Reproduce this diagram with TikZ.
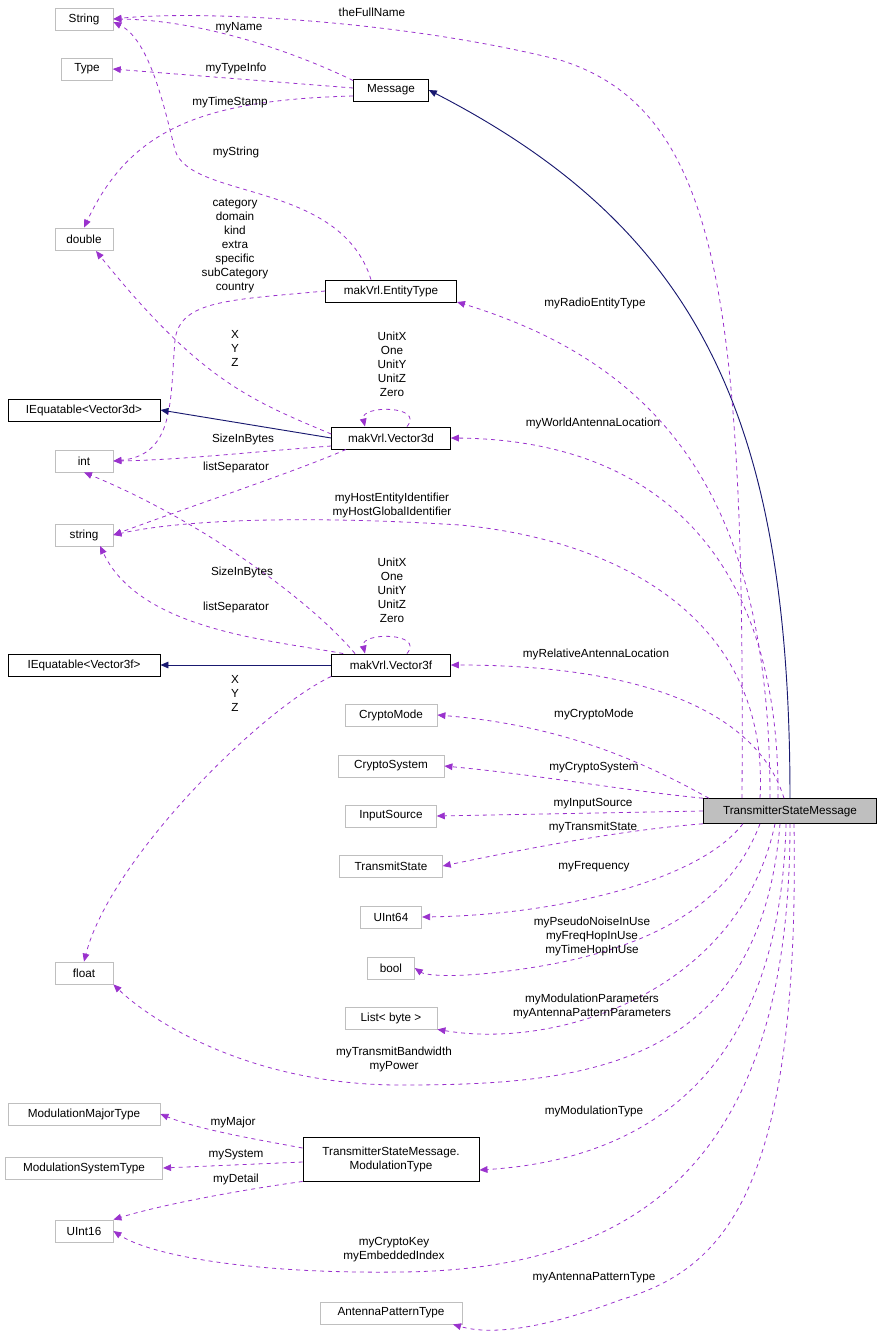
\documentclass[tikz,border=0pt]{standalone}
\usepackage{fontspec}
\setmainfont{Liberation Sans}
\usetikzlibrary{arrows.meta,calc}
\definecolor{pur}{HTML}{9A32CD}
\definecolor{nav}{HTML}{191970}
\definecolor{gr}{HTML}{BFBFBF}
\begin{document}
\begin{tikzpicture}[x=0.75pt,y=-0.75pt,
  every node/.style={font=\fontsize{8.8}{10.5}\selectfont},
  box/.style={draw=gr,line width=0.6pt,minimum height=16.5pt,inner sep=1pt},
  bbox/.style={draw=black,line width=0.7pt,minimum height=16.5pt,inner sep=1pt},
  dep/.style={draw=pur,dashed,line width=0.6pt,-{Triangle[length=6pt,width=5pt]}},
  inh/.style={draw=nav,line width=0.7pt,-{Triangle[length=6pt,width=5pt]}},
  lab/.style={inner sep=0pt,align=center}]
\useasboundingbox (0,0) rectangle (883,1339);
% nodes
\node[box,minimum width=43.5pt] (String) at (84,19) {String};
\node[box,minimum width=38pt] (Type) at (87,69) {Type};
\node[bbox,minimum width=56pt] (Message) at (391,90) {Message};
\node[box,minimum width=43.5pt] (double) at (84,239) {double};
\node[bbox,minimum width=98pt] (ET) at (391,291) {makVrl.EntityType};
\node[bbox,minimum width=114pt] (IEd) at (84,410) {IEquatable<Vector3d>};
\node[bbox,minimum width=89pt] (V3d) at (391,438) {makVrl.Vector3d};
\node[box,minimum width=43.5pt] (int) at (84,461) {int};
\node[box,minimum width=43.5pt] (string) at (84,535) {string};
\node[bbox,minimum width=114pt] (IEf) at (84,665) {IEquatable<Vector3f>};
\node[bbox,minimum width=89pt] (V3f) at (391,665) {makVrl.Vector3f};
\node[box,minimum width=69pt] (CM) at (391,715) {CryptoMode};
\node[box,minimum width=79.5pt] (CS) at (391,766) {CryptoSystem};
\node[box,minimum width=68pt] (IS) at (391,816) {InputSource};
\node[box,minimum width=77pt] (TS) at (391,866) {TransmitState};
\node[box,minimum width=46pt] (U64) at (391,917) {UInt64};
\node[draw=black,fill=gr,line width=0.7pt,minimum width=130pt,minimum height=18.5pt,inner sep=1pt] (TSM) at (790,811) {TransmitterStateMessage};
\node[box,minimum width=35pt] (bool) at (391,968) {bool};
\node[box,minimum width=43.5pt] (float) at (84,973) {float};
\node[box,minimum width=69pt] (List) at (391,1018) {List< byte >};
\node[box,minimum width=114pt] (MMT) at (84,1114) {ModulationMajorType};
\node[bbox,minimum width=132pt,minimum height=33pt,align=center] (MT) at (391,1159) {TransmitterStateMessage.\\ModulationType};
\node[box,minimum width=118pt] (MST) at (84,1168) {ModulationSystemType};
\node[box,minimum width=43.5pt] (U16) at (84,1231) {UInt16};
\node[box,minimum width=106.5pt] (APT) at (391,1313) {AntennaPatternType};
% Message edges
\draw[inh] (TSM.north) .. controls (790,420) and (700,230) .. (Message.east);
\draw[dep] ($(Message.north west)+(0,2)$) .. controls (290,50) and (200,20) .. (String.east);
\draw[dep] ($(Message.west)+(0,-2)$) -- (Type.east);
\draw[dep] ($(Message.west)+(0,6)$) .. controls (200,100) and (130,130) .. (double.north);
\node[lab] (l1) at (239,28) {myName};
\node[lab] (l2) at (236,68) {myTypeInfo};
\node[lab] (l3) at (230,102) {myTimeStamp};
% EntityType edges
\draw[dep] ($(ET.north)+(-20,0)$) .. controls (340,180) and (190,200) .. (175,150) .. controls (165,110) and (150,40) .. ($(String.east)+(0,3)$);
\node[lab] (l4) at (236,152) {myString};
\draw[dep] (ET.west) .. controls (230,300) and (180,300) .. (175,340) .. controls (170,400) and (175,455) .. (int.east);
\node[lab] (l5) at (235,246) {category\\domain\\kind\\extra\\specific\\subCategory\\country};
% Vector3d
\draw[inh] (V3d.west) -- (IEd.east);
\draw[dep] ($(V3d.west)+(0,-4)$) .. controls (250,400) and (200,380) .. (96,251);
\node[lab] (l6) at (235,348) {X\\Y\\Z};
\draw[dep] ($(V3d.north)+(16,0)$) .. controls (425,405) and (360,405) .. ($(V3d.north)+(-26,0)$);
\node[lab] (l7) at (392,364) {UnitX\\One\\UnitY\\UnitZ\\Zero};
\draw[dep] ($(V3d.west)+(0,8)$) .. controls (250,452) and (180,460) .. (int.east);
\node[lab] (l8) at (243,439) {SizeInBytes};
\draw[dep] ($(V3d.south)+(-45,0)$) .. controls (300,470) and (180,510) .. (string.east);
\node[lab] (l9) at (236,467) {listSeparator};
% Vector3f
\draw[inh] (V3f.west) -- (IEf.east);
\draw[dep] ($(V3f.north)+(-36,0)$) .. controls (310,600) and (200,520) .. (int.south);
\node[lab] (l10) at (242,572) {SizeInBytes};
\draw[dep] ($(V3f.north west)+(12,0)$) .. controls (270,640) and (140,630) .. (100,546);
\node[lab] (l11) at (236,607) {listSeparator};
\draw[dep] ($(V3f.north)+(16,0)$) .. controls (425,632) and (360,632) .. ($(V3f.north)+(-26,0)$);
\node[lab] (l12) at (392,590) {UnitX\\One\\UnitY\\UnitZ\\Zero};
\draw[dep] ($(V3f.south west)+(0,0)$) .. controls (260,710) and (110,860) .. (float.north);
\node[lab] (l13) at (235,693) {X\\Y\\Z};
% TSM edges
\draw[dep] ($(TSM.north)+(-48,0)$) .. controls (745,300) and (720,110) .. (560,60) .. controls (400,20) and (200,10) .. (String.east);
\node[lab] (l14) at (372,12) {theFullName};
\draw[dep] ($(TSM.north)+(-20,0)$) .. controls (770,520) and (680,370) .. (457,302);
\node[lab] (l15) at (595,303) {myRadioEntityType};
\draw[dep] ($(TSM.north)+(-12,0)$) .. controls (780,560) and (660,440) .. (V3d.east);
\node[lab] (l16) at (593,423) {myWorldAntennaLocation};
\draw[dep] ($(TSM.north)+(-30,0)$) .. controls (770,620) and (620,540) .. (460,525) .. controls (300,515) and (180,520) .. (string.east);
\node[lab] (l17) at (392,505) {myHostEntityIdentifier\\myHostGlobalIdentifier};
\draw[dep] ($(TSM.north)+(-6,0)$) .. controls (760,720) and (660,665) .. (V3f.east);
\node[lab] (l18) at (596,654) {myRelativeAntennaLocation};
\draw[dep] ($(TSM.north west)+(6,0)$) .. controls (640,760) and (560,725) .. (CM.east);
\node[lab] (l19) at (594,714) {myCryptoMode};
\draw[dep] (TSM.north west) .. controls (620,790) and (540,775) .. (CS.east);
\node[lab] (l20) at (594,768) {myCryptoSystem};
\draw[dep] (TSM.west) -- (IS.east);
\node[lab] (l21) at (593,804) {myInputSource};
\draw[dep] (TSM.south west) .. controls (620,830) and (520,850) .. (TS.east);
\node[lab] (l22) at (593,827) {myTransmitState};
\draw[dep] ($(TSM.south west)+(40,0)$) .. controls (700,880) and (560,915) .. (U64.east);
\node[lab] (l23) at (594,867) {myFrequency};
\draw[dep] ($(TSM.south)+(-30,0)$) .. controls (720,930) and (600,960) .. (500,972) .. controls (450,978) and (425,975) .. (bool.east);
\node[lab] (l24) at (592,936) {myPseudoNoiseInUse\\myFreqHopInUse\\myTimeHopInUse};
\draw[dep] ($(TSM.south)+(-15,0)$) .. controls (740,990) and (560,1050) .. (List.south east);
\node[lab] (l25) at (592,1006) {myModulationParameters\\myAntennaPatternParameters};
\draw[dep] ($(TSM.south)+(-10,0)$) .. controls (760,1070) and (580,1085) .. (400,1085) .. controls (250,1085) and (150,1020) .. (float.south east);
\node[lab] (l26) at (394,1059) {myTransmitBandwidth\\myPower};
\draw[dep] ($(TSM.south)+(-4,0)$) .. controls (780,1080) and (640,1160) .. ($(MT.east)+(0,11)$);
\node[lab] (l27) at (594,1111) {myModulationType};
\draw[dep] ($(TSM.south)+(0,0)$) .. controls (790,1150) and (650,1270) .. (400,1272) .. controls (250,1274) and (150,1255) .. (U16.east);
\node[lab] (l28) at (394,1250) {myCryptoKey\\myEmbeddedIndex};
\draw[dep] ($(TSM.south)+(4,0)$) .. controls (800,1200) and (720,1270) .. (620,1300) .. controls (540,1330) and (490,1335) .. ($(APT.south)+(62,0)$);
\node[lab] (l29) at (594,1278) {myAntennaPatternType};
% ModulationType edges
\draw[dep] ($(MT.west)+(0,-11)$) .. controls (260,1140) and (200,1130) .. (MMT.east);
\node[lab] (l30) at (233,1122) {myMajor};
\draw[dep] ($(MT.west)+(0,3)$) -- (MST.east);
\node[lab] (l31) at (236,1155) {mySystem};
\draw[dep] ($(MT.south west)+(0,0)$) .. controls (240,1190) and (160,1205) .. (U16.north east);
\node[lab] (l32) at (236,1179) {myDetail};
\end{tikzpicture}
\end{document}
